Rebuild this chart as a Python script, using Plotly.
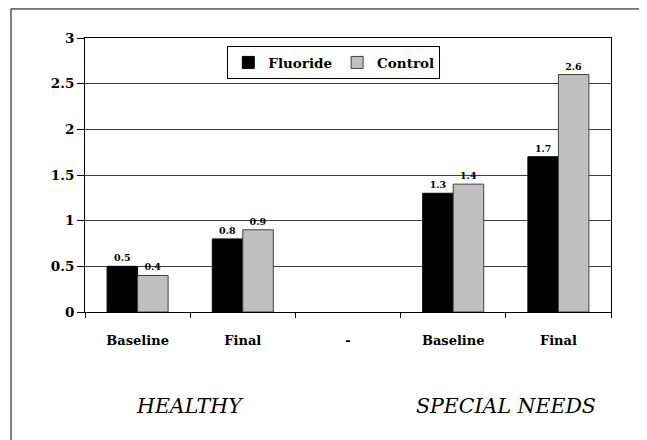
import plotly.graph_objects as go

categories = ["Baseline", "Final", "-", "Baseline", "Final"]
fluoride = [0.5, 0.8, None, 1.3, 1.7]
control = [0.4, 0.9, None, 1.4, 2.6]
groups = ["HEALTHY", "SPECIAL NEEDS"]
group_pos = [0.5, 3.5]
ytick_vals = [0, 0.5, 1, 1.5, 2, 2.5, 3]
ytick_text = ["0", "0.5", "1", "1.5", "2", "2.5", "3"]

xpos = list(range(len(categories)))
FONT = "DejaVu Serif"

fig = go.Figure()
fig.add_trace(go.Bar(
    name="Fluoride", x=xpos, y=fluoride,
    marker=dict(color="#000000", line=dict(color="#000000", width=1)),
    text=[None if v is None else f"{v}" for v in fluoride],
    textposition="outside", cliponaxis=False,
    textfont=dict(family=FONT, size=9.5, color="black", weight="bold"),
))
fig.add_trace(go.Bar(
    name="Control", x=xpos, y=control,
    marker=dict(color="#C0C0C0", line=dict(color="#404040", width=1)),
    text=[None if v is None else f"{v}" for v in control],
    textposition="outside", cliponaxis=False,
    textfont=dict(family=FONT, size=9.5, color="black", weight="bold"),
))

for g, p in zip(groups, group_pos):
    fig.add_annotation(x=p, xref="x", y=-0.395, yref="paper", text=g,
                       showarrow=False, font=dict(family=FONT, size=20.5, color="black", style="italic"))

fig.add_shape(type="rect", xref="paper", yref="paper",
              x0=-0.1407, x1=1.0551, y0=-0.6, y1=1.106,
              line=dict(color="black", width=1), fillcolor="rgba(0,0,0,0)", layer="below")

fig.update_layout(
    width=647, height=440,
    margin=dict(l=77, r=44, t=30, b=136),
    paper_bgcolor="white", plot_bgcolor="white",
    barmode="group", bargap=0.42, bargroupgap=0,
    font=dict(family=FONT, color="black"),
    showlegend=True,
    legend=dict(orientation="h", x=0.473, xanchor="center", y=0.91, yanchor="middle",
                bordercolor="black", borderwidth=1, bgcolor="white",
                font=dict(family=FONT, size=13.5, color="black", weight="bold"),
                itemwidth=30, traceorder="normal"),
    xaxis=dict(range=[-0.5, 4.5], tickmode="array", tickvals=xpos, ticktext=categories,
               ticks="", showgrid=False, zeroline=False,
               showline=True, linecolor="black", linewidth=1, mirror=True,
               tickfont=dict(family=FONT, size=13, color="black", weight="bold"),
               ticklabelstandoff=16,
               minor=dict(tickmode="array", tickvals=[-0.5, 0.5, 1.5, 2.5, 3.5, 4.5],
                          ticks="outside", ticklen=5, tickcolor="black", showgrid=False)),
    yaxis=dict(range=[0, 3], tickmode="array", tickvals=ytick_vals, ticktext=ytick_text,
               ticks="outside", ticklen=7, tickcolor="black",
               showgrid=True, gridcolor="#404040", gridwidth=1, zeroline=False,
               showline=True, linecolor="black", linewidth=1, mirror=True,
               tickfont=dict(family=FONT, size=13.5, color="black", weight="bold")),
)

fig.write_html("out.html")
